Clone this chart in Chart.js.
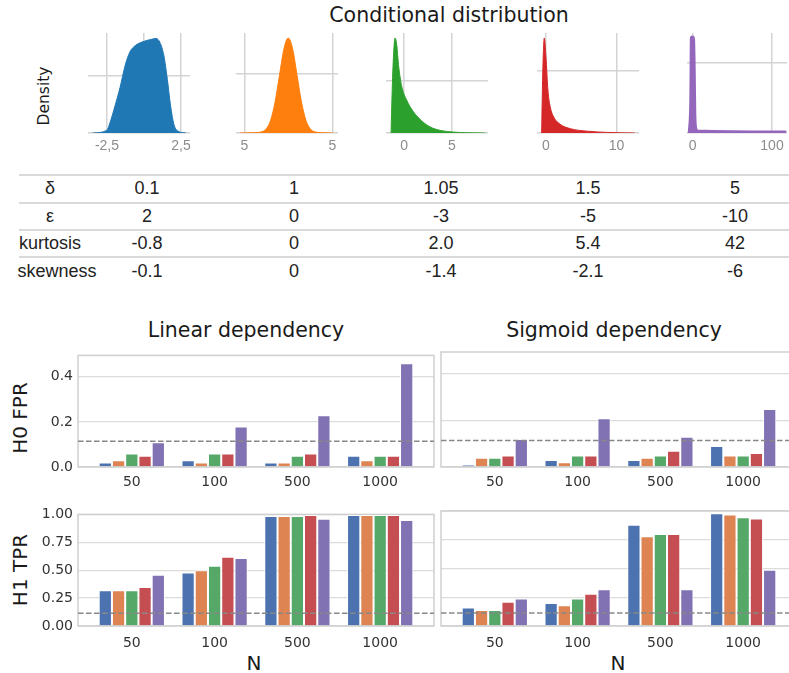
<!DOCTYPE html>
<html>
<head>
<meta charset="utf-8">
<script src="https://cdn.jsdelivr.net/npm/chart.js@4.4.1/dist/chart.umd.min.js"></script>
<style>
  body { margin: 0; width: 789px; height: 673px; overflow: hidden; background: #fff; position: relative;
         font-family: 'DejaVu Sans', sans-serif; color: #1a1a1a; }
  canvas { position: absolute; }
  .t { position: absolute; white-space: nowrap; transform: translate(-50%, -50%); }
  .rot { transform: translate(-50%, -50%) rotate(-90deg); }
  .rule { position: absolute; left: 19px; width: 770px; height: 0; border-top: 2px solid #d9d9d9; }
  .cell { position: absolute; white-space: nowrap; transform: translate(-50%, -50%);
          font-family: 'Liberation Sans', Arial, sans-serif; font-size: 18px; color: #222; }
</style>
</head>
<body>
<div class="t" style="left:449px;top:15px;font-size:20.5px;">Conditional distribution</div>
<div class="t rot" style="left:44px;top:96px;font-size:15.5px;">Density</div>
<div class="t" style="left:246px;top:330px;font-size:20.5px;">Linear dependency</div>
<div class="t" style="left:614px;top:330px;font-size:20.5px;">Sigmoid dependency</div>
<div class="t rot" style="left:20px;top:418px;font-size:20px;">H0 FPR</div>
<div class="t rot" style="left:20px;top:570px;font-size:20px;">H1 TPR</div>
<div class="t" style="left:254px;top:663px;font-size:20px;">N</div>
<div class="t" style="left:618px;top:663px;font-size:20px;">N</div>

<script>
// colours: matplotlib tab10 for the densities, seaborn "deep" for the bars
const distColors = ['#1f77b4', '#ff7f0e', '#2ca02c', '#d62728', '#9467bd'];
const hueColors = ['#4c72b0', '#dd8452', '#55a868', '#c44e52', '#8172b3'];

// density curves (x, density)
const dens1X = [-3.47, -2.52, -2.30, -1.96, -1.62, -1.28, -0.95, -0.61, -0.05, 0.52, 0.81, 1.08, 1.35, 1.58, 1.80, 2.03, 2.32, 2.84];
const dens1Y = [0, 0.009, 0.035, 0.094, 0.158, 0.234, 0.283, 0.304, 0.319, 0.327, 0.330, 0.316, 0.269, 0.187, 0.094, 0.029, 0.006, 0];
const dens2X = [-5.5, -4, -3, -2.5, -2, -1.5, -1, -0.5, 0, 0.5, 1, 1.5, 2, 2.5, 3, 4, 5.1];
const dens2Y = [0, 0.001, 0.004, 0.014, 0.043, 0.104, 0.193, 0.281, 0.318, 0.281, 0.193, 0.104, 0.043, 0.014, 0.004, 0.001, 0];
const dens3X = [-1.36, -1.22, -1.05, -0.94, -0.77, -0.56, -0.25, 0.28, 0.98, 1.85, 2.73, 3.78, 5.0, 6.6, 8.5];
const dens3Y = [0, 0.19, 0.33, 0.363, 0.337, 0.253, 0.179, 0.125, 0.081, 0.046, 0.023, 0.010, 0.004, 0.001, 0];
const dens4X = [-0.62, -0.43, -0.24, 0, 0.28, 0.61, 1.09, 2.03, 3.45, 5.8, 8.64, 12.6];
const dens4Y = [0, 0.214, 0.306, 0.246, 0.138, 0.084, 0.052, 0.028, 0.014, 0.006, 0.002, 0];
const dens5X = [-3, -1, -0.3, 0.6, 1.5, 3, 6, 118];
const dens5Y = [0, 0.1, 0.27, 0.2, 0.05, 0.01, 0.003, 0];

const miniTickVals = [[-2.5, 0, 2.5], [-5, 5], [0, 5], [0, 10], [0, 100]];
const miniTickText = [['-2,5', '', '2,5'], ['5', '5'], ['0', '5'], ['0', '10'], ['0', '100']];
const miniXMin = [-3.78, -5.94, -1.89, -1.27, -7.1];
const miniXMax = [3.11, 5.65, 8.78, 13.2, 118.9];
const miniYMax = [0.349, 0.335, 0.382, 0.322, 0.284];

// parameter table
const rowNames = ['δ', 'ε', 'kurtosis', 'skewness'];
const deltaVals = ['0.1', '1', '1.05', '1.5', '5'];
const epsVals = ['2', '0', '-3', '-5', '-10'];
const kurtVals = ['-0.8', '0', '2.0', '5.4', '42'];
const skewVals = ['-0.1', '0', '-1.4', '-2.1', '-6'];

// bar panels: one array per distribution, over N
const nLabels = ['50', '100', '500', '1000'];
const h0Linear = [
  [0.02, 0.03, 0.02, 0.05],
  [0.03, 0.02, 0.02, 0.03],
  [0.06, 0.06, 0.05, 0.05],
  [0.05, 0.06, 0.06, 0.05],
  [0.11, 0.18, 0.23, 0.46],
];
const h0Sigmoid = [
  [0.01, 0.03, 0.03, 0.09],
  [0.04, 0.02, 0.04, 0.05],
  [0.04, 0.05, 0.05, 0.05],
  [0.05, 0.05, 0.07, 0.06],
  [0.12, 0.21, 0.13, 0.25],
];
const h1Linear = [
  [0.32, 0.48, 0.985, 0.995],
  [0.32, 0.50, 0.985, 0.995],
  [0.32, 0.54, 0.985, 0.995],
  [0.35, 0.62, 0.995, 0.995],
  [0.46, 0.61, 0.96, 0.95],
];
const h1Sigmoid = [
  [0.16, 0.20, 0.88, 0.98],
  [0.14, 0.18, 0.78, 0.97],
  [0.14, 0.24, 0.80, 0.945],
  [0.21, 0.28, 0.80, 0.935],
  [0.24, 0.32, 0.32, 0.49],
];
const alphaLevel = 0.114;

Chart.defaults.animation = false;
Chart.defaults.events = [];
Chart.defaults.plugins.legend.display = false;
Chart.defaults.plugins.tooltip.enabled = false;

function addCanvas(left, top, w, h) {
  const cv = document.createElement('canvas');
  cv.width = w; cv.height = h;
  cv.style.left = left + 'px';
  cv.style.top = top + 'px';
  document.body.appendChild(cv);
  return cv;
}

// --- small density plots ---
const miniLeft = [88, 236, 386, 537, 687];
const miniRight = [190, 338, 488, 639, 787];
const densX = [dens1X, dens2X, dens3X, dens4X, dens5X];
const densY = [dens1Y, dens2Y, dens3Y, dens4Y, dens5Y];

densX.forEach((xs, i) => {
  const cv = addCanvas(miniLeft[i] - 14, 28, miniRight[i] - miniLeft[i] + 28, 135);
  new Chart(cv, {
    type: 'line',
    data: {
      datasets: [{
        data: xs.map((x, k) => ({ x: x, y: densY[i][k] })),
        borderColor: distColors[i],
        backgroundColor: distColors[i],
        fill: 'origin',
        borderWidth: i === 4 ? 5 : 1,
        pointRadius: 0,
        cubicInterpolationMode: 'monotone',
      }],
    },
    options: {
      responsive: false,
      layout: { padding: { left: 14, right: 14, top: 5, bottom: 0 } },
      scales: {
        x: {
          type: 'linear', min: miniXMin[i], max: miniXMax[i],
          afterBuildTicks: (s) => { s.ticks = miniTickVals[i].map((v) => ({ value: v })); },
          afterFit: (s) => { s.height = 30; },
          grid: { color: '#d4d4d4', lineWidth: 1.5, drawTicks: false },
          border: { display: false },
          ticks: {
            padding: 5, color: '#8c8c8c', maxRotation: 0, autoSkip: false,
            font: { family: 'Liberation Sans', size: 14 },
            callback: (v, k) => miniTickText[i][k],
          },
        },
        y: {
          min: 0, max: miniYMax[i],
          afterBuildTicks: (s) => { s.ticks = [{ value: 0 }, { value: 0.2 }]; },
          afterFit: (s) => { s.width = 0; },
          grid: { color: '#d4d4d4', lineWidth: 1.5, drawTicks: false },
          border: { display: false },
          ticks: { display: false },
        },
      },
    },
  });
});

// --- table ---
const colX = [147, 294, 441, 588, 735];
const rowY = [188, 215.7, 243, 270.7];
const ruleY = [175, 202.7, 230, 256.7];
const tableRows = [deltaVals, epsVals, kurtVals, skewVals];
ruleY.forEach((y) => {
  const d = document.createElement('div');
  d.className = 'rule';
  d.style.top = (y - 1) + 'px';
  document.body.appendChild(d);
});
function addCell(text, x, y) {
  const d = document.createElement('div');
  d.className = 'cell';
  d.textContent = text;
  d.style.left = x + 'px';
  d.style.top = y + 'px';
  document.body.appendChild(d);
}
rowNames.forEach((name, r) => {
  addCell(name, r === 3 ? 57 : 50, rowY[r]);
  tableRows[r].forEach((v, c) => addCell(v, colX[c], rowY[r]));
});

// --- bar panels ---
const framePlugin = {
  id: 'frame',
  beforeDatasetsDraw(chart) {
    const a = chart.chartArea, c = chart.ctx;
    c.save();
    c.strokeStyle = '#cfcfcf';
    c.lineWidth = 1.5;
    c.strokeRect(a.left, a.top, a.right - a.left, a.bottom - a.top);
    c.restore();
  },
};

const xLo = -0.65, xHi = 3.65;
const yTicksH0 = [0, 0.2, 0.4];
const yTicksH1 = [0, 0.25, 0.5, 0.75, 1];

function barPanel(left, top, series, yMax, yTicks, decimals, showY, labelPad) {
  const w = showY ? 444 : 368;
  const cv = addCanvas(left, top, w, 160);
  const datasets = series.map((vals, h) => ({
    type: 'bar',
    data: vals.map((v, k) => ({ x: k, y: v })),
    backgroundColor: hueColors[h],
    borderColor: 'rgba(255,255,255,0.85)',
    borderWidth: 1,
    categoryPercentage: 0.8,
    barPercentage: 1,
    order: 1,
  }));
  datasets.push({
    type: 'line',
    data: [{ x: xLo, y: alphaLevel }, { x: xHi, y: alphaLevel }],
    borderColor: '#888888',
    borderWidth: 1.5,
    borderDash: [5.5, 2.5],
    pointRadius: 0,
    order: 0,
  });
  new Chart(cv, {
    type: 'bar',
    data: { datasets: datasets },
    plugins: [framePlugin],
    options: {
      responsive: false,
      layout: { padding: { left: showY ? 0 : 2, right: 10, top: 10, bottom: 0 } },
      scales: {
        x: {
          type: 'linear', min: xLo, max: xHi, offset: false,
          afterBuildTicks: (s) => { s.ticks = nLabels.map((_, k) => ({ value: k })); },
          afterFit: (s) => { s.height = 35; },
          grid: { display: false, drawTicks: false, offset: false },
          border: { display: false },
          ticks: {
            padding: labelPad, color: '#333', maxRotation: 0, autoSkip: false,
            font: { family: 'DejaVu Sans', size: 14 },
            callback: (v, k) => nLabels[k],
          },
        },
        y: {
          min: 0, max: yMax,
          afterBuildTicks: (s) => { s.ticks = yTicks.map((v) => ({ value: v })); },
          afterFit: (s) => { s.width = showY ? 78 : 0; },
          grid: { color: '#dcdcdc', lineWidth: 1.3, drawTicks: false },
          border: { display: false },
          ticks: {
            display: showY, padding: 5, color: '#333',
            font: { family: 'DejaVu Sans', size: 14 },
            callback: (v) => v.toFixed(decimals),
          },
        },
      },
    },
  });
}

barPanel(0, 342, h0Linear, 0.495, yTicksH0, 1, true, 7);
barPanel(439, 342, h0Sigmoid, 0.495, yTicksH0, 1, false, 7);
barPanel(0, 501, h1Linear, 1.0, yTicksH1, 2, true, 9);
barPanel(439, 501, h1Sigmoid, 1.0, yTicksH1, 2, false, 9);
</script>
</body>
</html>
